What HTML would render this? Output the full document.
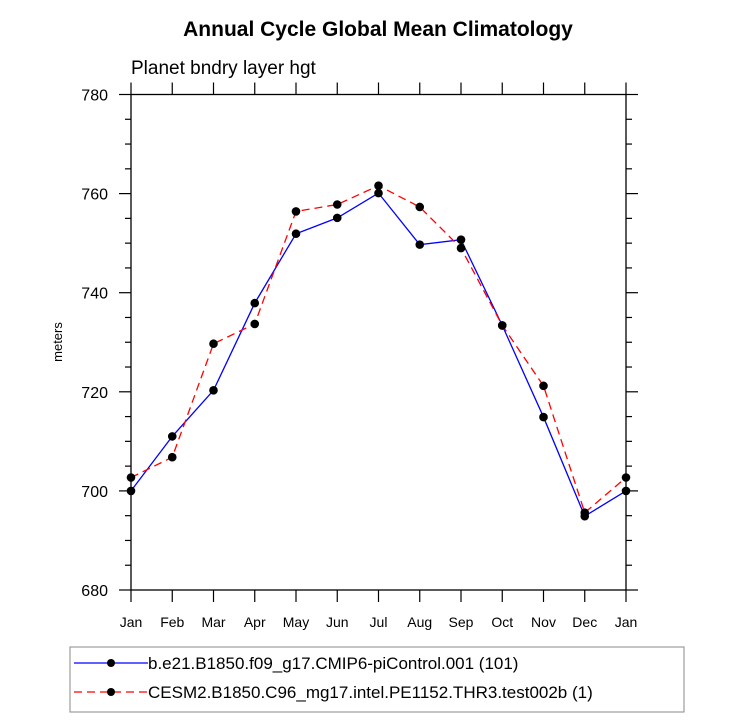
<!DOCTYPE html>
<html><head><meta charset="utf-8"><style>
body{margin:0;background:#fff;}
svg text{font-family:"Liberation Sans",Arial,sans-serif;}
</style></head><body>
<svg id="chart" width="732" height="719" xmlns="http://www.w3.org/2000/svg">
<text x="378" y="36" text-anchor="middle" font-size="21" font-weight="bold">Annual Cycle Global Mean Climatology</text>
<text x="131" y="74" font-size="19">Planet bndry layer hgt</text>
<text transform="translate(62,342) rotate(-90)" text-anchor="middle" font-size="13">meters</text>
<g id="axes"></g>
<g id="series"></g>
<rect x="70" y="647" width="614" height="65" fill="none" stroke="#888" stroke-width="1"/>
<g>
<line x1="74" y1="663" x2="148" y2="663" stroke="#0000ff" stroke-width="1.2"/>
<circle cx="111" cy="663" r="4" fill="#000"/>
<text x="148" y="669" font-size="17">b.e21.B1850.f09_g17.CMIP6-piControl.001 (101)</text>
</g>
<g>
<line x1="74" y1="692" x2="148" y2="692" stroke="#ff0000" stroke-width="1.2" stroke-dasharray="8,5"/>
<circle cx="111" cy="692" r="4" fill="#000"/>
<text x="148" y="698" font-size="17">CESM2.B1850.C96_mg17.intel.PE1152.THR3.test002b (1)</text>
</g>
</svg>
<script>
const months = ["Jan","Feb","Mar","Apr","May","Jun","Jul","Aug","Sep","Oct","Nov","Dec","Jan"];
const controlValues = [700.0,711.0,720.3,737.9,751.9,755.1,760.1,749.7,750.7,733.4,714.9,694.9,700.0];
const testValues = [702.7,706.8,729.7,733.7,756.4,757.8,761.6,757.3,749.0,733.4,721.2,695.6,702.7];
const yTicks = [680,700,720,740,760,780];
const NS="http://www.w3.org/2000/svg";
const L=131,R=626,T=94.5,B=590,yMin=680,yMax=780;
function xs(i){return L+(R-L)*i/(months.length-1);}
function ys(v){return B-(v-yMin)/(yMax-yMin)*(B-T);}
function mk(tag,attrs,parent){const e=document.createElementNS(NS,tag);for(const k in attrs)e.setAttribute(k,attrs[k]);parent.appendChild(e);return e;}
const ax=document.getElementById('axes');
const frame=mk('rect',{x:L,y:T,width:R-L,height:B-T,fill:'none',stroke:'#000','stroke-width':1.3},ax);


months.forEach((m,i)=>{
  const x=xs(i);
  mk('line',{x1:x,y1:B,x2:x,y2:B+12,stroke:'#000','stroke-width':1.2},ax);
  mk('line',{x1:x,y1:T,x2:x,y2:T-12,stroke:'#000','stroke-width':1.2},ax);
  const t=mk('text',{x:x,y:B+37,'text-anchor':'middle','font-size':14},ax);
  t.textContent=m;
  
  
});
for(let v=yMin;v<=yMax;v+=5){
  const y=ys(v);const major=(v%20===0);const len=major?12:6;
  mk('line',{x1:L,y1:y,x2:L-len,y2:y,stroke:'#000','stroke-width':1.2},ax);
  mk('line',{x1:R,y1:y,x2:R+len,y2:y,stroke:'#000','stroke-width':1.2},ax);
}
yTicks.forEach(v=>{
  const t=mk('text',{x:108,y:ys(v)+6,'text-anchor':'end','font-size':16},ax);
  t.textContent=v;
  
  
});
const sg=document.getElementById('series');
function draw(vals,color,dash,name){
  const g=mk('g',{},sg);
  
  
  const pts=vals.map((v,i)=>xs(i)+','+ys(v)).join(' ');
  const a={points:pts,fill:'none',stroke:color,'stroke-width':1.3};
  if(dash)a['stroke-dasharray']=dash;
  mk('polyline',a,g);
  vals.forEach((v,i)=>{
    const c=mk('circle',{cx:xs(i),cy:ys(v),r:4.3,fill:'#000'},g);
    
    
  });
}
draw(controlValues,'#0000ff',null,'series-control');
draw(testValues,'#ff0000','8,5','series-test');
</script>
</body></html>
